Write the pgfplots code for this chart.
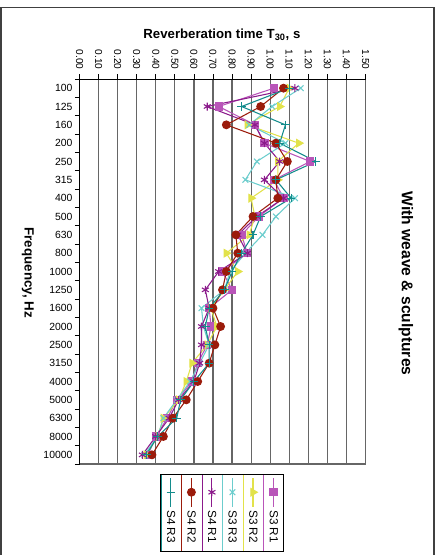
\documentclass[border=0pt]{standalone}
\usepackage{fontspec}
\setmainfont{Liberation Sans}
\usepackage{pgfplots}
\pgfplotsset{compat=1.18}
\usepackage{pgfplotstable}

\definecolor{cSqr}{HTML}{B955B9}
\definecolor{cTri}{HTML}{E2E24A}
\definecolor{cX}{HTML}{6CCDCD}
\definecolor{cAst}{HTML}{8B1A8B}
\definecolor{cCir}{HTML}{9B1B0B}
\definecolor{cPlus}{HTML}{148C8C}
\definecolor{gridc}{HTML}{666666}

% idx: 0=100 Hz ... 20=10000 Hz
\pgfplotstableread{
idx s3r1 s3r2 s3r3 s4r1 s4r2 s4r3
0  1.02 1.10 1.16 1.13 1.07 1.10
1  0.73 1.05 1.01 0.67 0.95 0.85
2  0.92 0.88 0.89 0.92 0.77 1.08
3  0.97 1.15 1.08 0.97 1.03 1.05
4  1.21 1.04 0.93 1.05 1.09 1.24
5  1.02 1.04 0.87 0.97 1.03 1.03
6  1.07 0.90 1.13 1.07 1.04 1.11
7  0.94 0.92 1.03 0.93 0.91 0.95
8  0.85 0.89 0.96 0.83 0.82 0.91
9  0.88 0.77 0.87 0.88 0.83 0.85
10 0.75 0.83 0.79 0.73 0.77 0.80
11 0.80 0.76 0.76 0.66 0.75 0.76
12 0.68 0.69 0.64 0.68 0.70 0.68
13 0.69 0.72 0.65 0.64 0.74 0.66
14 0.67 0.67 0.68 0.64 0.71 0.68
15 0.62 0.59 0.63 0.63 0.68 0.68
16 0.59 0.56 0.58 0.60 0.62 0.60
17 0.51 0.52 0.51 0.52 0.56 0.53
18 0.46 0.44 0.44 0.47 0.49 0.51
19 0.40 0.41 0.41 0.40 0.44 0.41
20 0.36 0.35 0.34 0.33 0.38 0.35
}\datatable

\begin{document}
\begin{tikzpicture}
\useasboundingbox (-59.625pt,-357pt) rectangle (268.125pt,59.25pt);
\draw[black!75, line width=0.8pt] (-58.875pt,-357pt) -- (-58.875pt,53.625pt) -- (265.875pt,53.625pt) -- (265.875pt,-357pt);
\begin{axis}[
  at={(0pt,0pt)}, anchor=north west,
  scale only axis, width=214.5pt, height=288.75pt,
  xmin=0, xmax=1.5, ymin=-0.5, ymax=20.5, y dir=reverse,
  axis x line=top, axis y line=left,
  axis line style={-, black, line width=0.7pt},
  tick align=outside,
  xtick={0,0.1,0.2,0.3,0.4,0.5,0.6,0.7,0.8,0.9,1.0,1.1,1.2,1.3,1.4,1.5},
  xticklabel style={rotate=-90, anchor=east, font=\fontsize{7.6}{9}\selectfont,
     /pgf/number format/fixed, /pgf/number format/fixed zerofill,
     /pgf/number format/precision=2, /pgf/number format/assume math mode=true},
  x tick style={black, line width=0.6pt},
  major tick length=3.5pt,
  xmajorgrids, grid style={gridc, line width=0.9pt},
  ytick={-0.5,0.5,...,20.5}, yticklabels={},
  y tick style={black, line width=0.6pt},
  extra y ticks={0,1,2,3,4,5,6,7,8,9,10,11,12,13,14,15,16,17,18,19,20},
  extra y tick labels={100,125,160,200,250,315,400,500,630,800,1000,1250,1600,2000,2500,3150,4000,5000,6300,8000,10000},
  extra y tick style={major tick length=0pt, yticklabel style={font=\fontsize{7.8}{9}\selectfont, xshift=-1.8pt}},
  clip=false,
  legend columns=6, reverse legend,
  legend style={at={(axis description cs:0.499,-0.127)}, anchor=center,
     draw=black, line width=0.6pt, font=\fontsize{8.8}{10}\selectfont,
     inner sep=0pt, column sep=0pt, row sep=0pt,
     cells={anchor=west},
     nodes={rotate=-90, inner xsep=0pt, inner ysep=4.1pt, text height=6.4pt, text depth=0pt}},
  legend image code/.code={\path (0pt,-30.75pt) -- (0pt,26.25pt);
     \draw[mark repeat=2,mark phase=2,#1,overlay] plot coordinates {(7.3pt,2.5pt) (7.3pt,13.25pt) (7.3pt,24pt)};},
]
\addplot[cSqr, line width=0.8pt, mark=square*, mark size=2.7pt, mark options={solid}] table[x=s3r1, y=idx] {\datatable};
\addlegendentry{S3 R1}
\addplot[cTri, line width=0.8pt, mark=triangle*, mark size=3.2pt, mark options={solid, rotate=-90}] table[x=s3r2, y=idx] {\datatable};
\addlegendentry{S3 R2}
\addplot[cX, line width=0.8pt, mark=x, mark size=3pt, mark options={solid}] table[x=s3r3, y=idx] {\datatable};
\addlegendentry{S3 R3}
\addplot[cAst, line width=0.8pt, mark=asterisk, mark size=3pt, mark options={solid}] table[x=s4r1, y=idx] {\datatable};
\addlegendentry{S4 R1}
\addplot[cCir, line width=0.8pt, mark=*, mark size=2.9pt, mark options={solid}] table[x=s4r2, y=idx] {\datatable};
\addlegendentry{S4 R2}
\addplot[cPlus, line width=0.8pt, mark=+, mark size=3.2pt, mark options={solid}] table[x=s4r3, y=idx] {\datatable};
\addlegendentry{S4 R3}
\draw[gridc, line width=0.8pt] (axis cs:0,20.5) -- (axis cs:1.5,20.5);
\node[font=\bfseries\fontsize{9.9}{11}\selectfont] at (axis description cs:0.498,1.116) {Reverberation time T\textsubscript{30}, s};
\node[font=\bfseries\fontsize{10}{11}\selectfont, rotate=-90] at (axis description cs:-0.181,0.497) {Frequency, Hz};
\node[font=\bfseries\fontsize{11.7}{13}\selectfont, rotate=-90] at (axis description cs:1.1416,0.4686) {With weave \& sculptures};
\end{axis}
\end{tikzpicture}
\end{document}
